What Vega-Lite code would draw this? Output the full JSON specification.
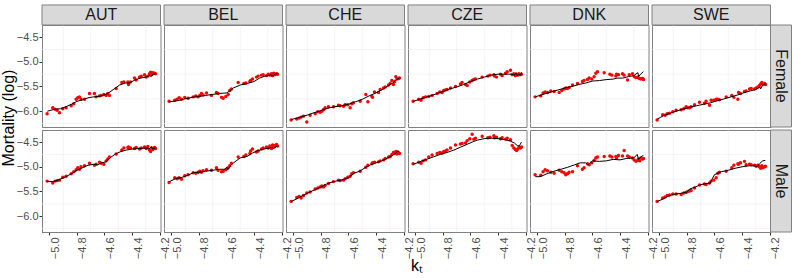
{
"$schema": "https://vega.github.io/schema/vega-lite/v6.json",
"background": "white",
"padding": {"left": 0, "top": 3, "right": 2, "bottom": 2},
"bounds": "flush",
"spacing": {"row": 3, "column": 3},
"datasets": {"d": [
{"c":"AUT","s":"Female","k":"obs","x":-5.017,"y":-6.05},{"c":"AUT","s":"Female","k":"obs","x":-4.976,"y":-5.93},{"c":"AUT","s":"Female","k":"obs","x":-4.959,"y":-5.96},{"c":"AUT","s":"Female","k":"obs","x":-4.944,"y":-5.98},{"c":"AUT","s":"Female","k":"obs","x":-4.927,"y":-6.03},{"c":"AUT","s":"Female","k":"obs","x":-4.903,"y":-5.95},{"c":"AUT","s":"Female","k":"obs","x":-4.879,"y":-5.93},{"c":"AUT","s":"Female","k":"obs","x":-4.842,"y":-5.89},{"c":"AUT","s":"Female","k":"obs","x":-4.823,"y":-5.85},{"c":"AUT","s":"Female","k":"obs","x":-4.806,"y":-5.76},{"c":"AUT","s":"Female","k":"obs","x":-4.794,"y":-5.73},{"c":"AUT","s":"Female","k":"obs","x":-4.782,"y":-5.71},{"c":"AUT","s":"Female","k":"obs","x":-4.770,"y":-5.76},{"c":"AUT","s":"Female","k":"obs","x":-4.745,"y":-5.76},{"c":"AUT","s":"Female","k":"obs","x":-4.709,"y":-5.64},{"c":"AUT","s":"Female","k":"obs","x":-4.673,"y":-5.64},{"c":"AUT","s":"Female","k":"obs","x":-4.661,"y":-5.71},{"c":"AUT","s":"Female","k":"obs","x":-4.636,"y":-5.69},{"c":"AUT","s":"Female","k":"obs","x":-4.624,"y":-5.68},{"c":"AUT","s":"Female","k":"obs","x":-4.605,"y":-5.66},{"c":"AUT","s":"Female","k":"obs","x":-4.588,"y":-5.68},{"c":"AUT","s":"Female","k":"obs","x":-4.576,"y":-5.64},{"c":"AUT","s":"Female","k":"obs","x":-4.564,"y":-5.68},{"c":"AUT","s":"Female","k":"obs","x":-4.515,"y":-5.54},{"c":"AUT","s":"Female","k":"obs","x":-4.474,"y":-5.42},{"c":"AUT","s":"Female","k":"obs","x":-4.459,"y":-5.41},{"c":"AUT","s":"Female","k":"obs","x":-4.430,"y":-5.41},{"c":"AUT","s":"Female","k":"obs","x":-4.425,"y":-5.46},{"c":"AUT","s":"Female","k":"obs","x":-4.411,"y":-5.41},{"c":"AUT","s":"Female","k":"obs","x":-4.382,"y":-5.33},{"c":"AUT","s":"Female","k":"obs","x":-4.370,"y":-5.37},{"c":"AUT","s":"Female","k":"obs","x":-4.345,"y":-5.31},{"c":"AUT","s":"Female","k":"obs","x":-4.333,"y":-5.29},{"c":"AUT","s":"Female","k":"obs","x":-4.309,"y":-5.26},{"c":"AUT","s":"Female","k":"obs","x":-4.297,"y":-5.31},{"c":"AUT","s":"Female","k":"obs","x":-4.285,"y":-5.29},{"c":"AUT","s":"Female","k":"obs","x":-4.273,"y":-5.24},{"c":"AUT","s":"Female","k":"obs","x":-4.265,"y":-5.21},{"c":"AUT","s":"Female","k":"obs","x":-4.256,"y":-5.26},{"c":"AUT","s":"Female","k":"obs","x":-4.248,"y":-5.22},{"c":"AUT","s":"Female","k":"obs","x":-4.236,"y":-5.23},{"c":"AUT","s":"Female","k":"obs","x":-4.229,"y":-5.24},
{"c":"AUT","s":"Male","k":"obs","x":-5.017,"y":-5.29},{"c":"AUT","s":"Male","k":"obs","x":-4.976,"y":-5.33},{"c":"AUT","s":"Male","k":"obs","x":-4.959,"y":-5.29},{"c":"AUT","s":"Male","k":"obs","x":-4.944,"y":-5.28},{"c":"AUT","s":"Male","k":"obs","x":-4.927,"y":-5.27},{"c":"AUT","s":"Male","k":"obs","x":-4.903,"y":-5.21},{"c":"AUT","s":"Male","k":"obs","x":-4.879,"y":-5.19},{"c":"AUT","s":"Male","k":"obs","x":-4.842,"y":-5.14},{"c":"AUT","s":"Male","k":"obs","x":-4.823,"y":-5.10},{"c":"AUT","s":"Male","k":"obs","x":-4.806,"y":-5.06},{"c":"AUT","s":"Male","k":"obs","x":-4.794,"y":-5.02},{"c":"AUT","s":"Male","k":"obs","x":-4.782,"y":-5.05},{"c":"AUT","s":"Male","k":"obs","x":-4.770,"y":-5.00},{"c":"AUT","s":"Male","k":"obs","x":-4.745,"y":-4.98},{"c":"AUT","s":"Male","k":"obs","x":-4.709,"y":-4.93},{"c":"AUT","s":"Male","k":"obs","x":-4.673,"y":-4.97},{"c":"AUT","s":"Male","k":"obs","x":-4.661,"y":-4.95},{"c":"AUT","s":"Male","k":"obs","x":-4.636,"y":-4.91},{"c":"AUT","s":"Male","k":"obs","x":-4.624,"y":-4.93},{"c":"AUT","s":"Male","k":"obs","x":-4.605,"y":-4.95},{"c":"AUT","s":"Male","k":"obs","x":-4.588,"y":-4.88},{"c":"AUT","s":"Male","k":"obs","x":-4.576,"y":-4.84},{"c":"AUT","s":"Male","k":"obs","x":-4.564,"y":-4.80},{"c":"AUT","s":"Male","k":"obs","x":-4.515,"y":-4.74},{"c":"AUT","s":"Male","k":"obs","x":-4.474,"y":-4.66},{"c":"AUT","s":"Male","k":"obs","x":-4.459,"y":-4.62},{"c":"AUT","s":"Male","k":"obs","x":-4.430,"y":-4.61},{"c":"AUT","s":"Male","k":"obs","x":-4.425,"y":-4.60},{"c":"AUT","s":"Male","k":"obs","x":-4.411,"y":-4.62},{"c":"AUT","s":"Male","k":"obs","x":-4.382,"y":-4.63},{"c":"AUT","s":"Male","k":"obs","x":-4.370,"y":-4.61},{"c":"AUT","s":"Male","k":"obs","x":-4.345,"y":-4.64},{"c":"AUT","s":"Male","k":"obs","x":-4.333,"y":-4.62},{"c":"AUT","s":"Male","k":"obs","x":-4.309,"y":-4.60},{"c":"AUT","s":"Male","k":"obs","x":-4.297,"y":-4.63},{"c":"AUT","s":"Male","k":"obs","x":-4.285,"y":-4.59},{"c":"AUT","s":"Male","k":"obs","x":-4.273,"y":-4.66},{"c":"AUT","s":"Male","k":"obs","x":-4.265,"y":-4.69},{"c":"AUT","s":"Male","k":"obs","x":-4.256,"y":-4.62},{"c":"AUT","s":"Male","k":"obs","x":-4.248,"y":-4.65},{"c":"AUT","s":"Male","k":"obs","x":-4.236,"y":-4.61},{"c":"AUT","s":"Male","k":"obs","x":-4.229,"y":-4.63},
{"c":"BEL","s":"Female","k":"obs","x":-5.017,"y":-5.80},{"c":"BEL","s":"Female","k":"obs","x":-4.976,"y":-5.78},{"c":"BEL","s":"Female","k":"obs","x":-4.959,"y":-5.76},{"c":"BEL","s":"Female","k":"obs","x":-4.944,"y":-5.73},{"c":"BEL","s":"Female","k":"obs","x":-4.927,"y":-5.76},{"c":"BEL","s":"Female","k":"obs","x":-4.903,"y":-5.72},{"c":"BEL","s":"Female","k":"obs","x":-4.879,"y":-5.74},{"c":"BEL","s":"Female","k":"obs","x":-4.842,"y":-5.71},{"c":"BEL","s":"Female","k":"obs","x":-4.823,"y":-5.69},{"c":"BEL","s":"Female","k":"obs","x":-4.806,"y":-5.71},{"c":"BEL","s":"Female","k":"obs","x":-4.794,"y":-5.68},{"c":"BEL","s":"Female","k":"obs","x":-4.782,"y":-5.64},{"c":"BEL","s":"Female","k":"obs","x":-4.770,"y":-5.67},{"c":"BEL","s":"Female","k":"obs","x":-4.745,"y":-5.63},{"c":"BEL","s":"Female","k":"obs","x":-4.709,"y":-5.68},{"c":"BEL","s":"Female","k":"obs","x":-4.673,"y":-5.62},{"c":"BEL","s":"Female","k":"obs","x":-4.661,"y":-5.64},{"c":"BEL","s":"Female","k":"obs","x":-4.636,"y":-5.72},{"c":"BEL","s":"Female","k":"obs","x":-4.624,"y":-5.74},{"c":"BEL","s":"Female","k":"obs","x":-4.605,"y":-5.70},{"c":"BEL","s":"Female","k":"obs","x":-4.588,"y":-5.66},{"c":"BEL","s":"Female","k":"obs","x":-4.576,"y":-5.58},{"c":"BEL","s":"Female","k":"obs","x":-4.564,"y":-5.55},{"c":"BEL","s":"Female","k":"obs","x":-4.515,"y":-5.42},{"c":"BEL","s":"Female","k":"obs","x":-4.474,"y":-5.44},{"c":"BEL","s":"Female","k":"obs","x":-4.459,"y":-5.43},{"c":"BEL","s":"Female","k":"obs","x":-4.430,"y":-5.40},{"c":"BEL","s":"Female","k":"obs","x":-4.425,"y":-5.38},{"c":"BEL","s":"Female","k":"obs","x":-4.411,"y":-5.35},{"c":"BEL","s":"Female","k":"obs","x":-4.382,"y":-5.31},{"c":"BEL","s":"Female","k":"obs","x":-4.370,"y":-5.29},{"c":"BEL","s":"Female","k":"obs","x":-4.345,"y":-5.27},{"c":"BEL","s":"Female","k":"obs","x":-4.333,"y":-5.26},{"c":"BEL","s":"Female","k":"obs","x":-4.309,"y":-5.28},{"c":"BEL","s":"Female","k":"obs","x":-4.297,"y":-5.25},{"c":"BEL","s":"Female","k":"obs","x":-4.285,"y":-5.27},{"c":"BEL","s":"Female","k":"obs","x":-4.273,"y":-5.24},{"c":"BEL","s":"Female","k":"obs","x":-4.265,"y":-5.28},{"c":"BEL","s":"Female","k":"obs","x":-4.256,"y":-5.23},{"c":"BEL","s":"Female","k":"obs","x":-4.248,"y":-5.26},{"c":"BEL","s":"Female","k":"obs","x":-4.236,"y":-5.24},{"c":"BEL","s":"Female","k":"obs","x":-4.229,"y":-5.25},
{"c":"BEL","s":"Male","k":"obs","x":-5.017,"y":-5.32},{"c":"BEL","s":"Male","k":"obs","x":-4.976,"y":-5.22},{"c":"BEL","s":"Male","k":"obs","x":-4.959,"y":-5.24},{"c":"BEL","s":"Male","k":"obs","x":-4.944,"y":-5.22},{"c":"BEL","s":"Male","k":"obs","x":-4.927,"y":-5.25},{"c":"BEL","s":"Male","k":"obs","x":-4.903,"y":-5.18},{"c":"BEL","s":"Male","k":"obs","x":-4.879,"y":-5.16},{"c":"BEL","s":"Male","k":"obs","x":-4.842,"y":-5.12},{"c":"BEL","s":"Male","k":"obs","x":-4.823,"y":-5.13},{"c":"BEL","s":"Male","k":"obs","x":-4.806,"y":-5.11},{"c":"BEL","s":"Male","k":"obs","x":-4.794,"y":-5.09},{"c":"BEL","s":"Male","k":"obs","x":-4.782,"y":-5.11},{"c":"BEL","s":"Male","k":"obs","x":-4.770,"y":-5.08},{"c":"BEL","s":"Male","k":"obs","x":-4.745,"y":-5.06},{"c":"BEL","s":"Male","k":"obs","x":-4.709,"y":-5.07},{"c":"BEL","s":"Male","k":"obs","x":-4.673,"y":-5.02},{"c":"BEL","s":"Male","k":"obs","x":-4.661,"y":-5.07},{"c":"BEL","s":"Male","k":"obs","x":-4.636,"y":-5.10},{"c":"BEL","s":"Male","k":"obs","x":-4.624,"y":-5.09},{"c":"BEL","s":"Male","k":"obs","x":-4.605,"y":-5.06},{"c":"BEL","s":"Male","k":"obs","x":-4.588,"y":-5.02},{"c":"BEL","s":"Male","k":"obs","x":-4.576,"y":-4.98},{"c":"BEL","s":"Male","k":"obs","x":-4.564,"y":-4.93},{"c":"BEL","s":"Male","k":"obs","x":-4.515,"y":-4.80},{"c":"BEL","s":"Male","k":"obs","x":-4.474,"y":-4.79},{"c":"BEL","s":"Male","k":"obs","x":-4.459,"y":-4.76},{"c":"BEL","s":"Male","k":"obs","x":-4.430,"y":-4.73},{"c":"BEL","s":"Male","k":"obs","x":-4.425,"y":-4.68},{"c":"BEL","s":"Male","k":"obs","x":-4.411,"y":-4.64},{"c":"BEL","s":"Male","k":"obs","x":-4.382,"y":-4.70},{"c":"BEL","s":"Male","k":"obs","x":-4.370,"y":-4.68},{"c":"BEL","s":"Male","k":"obs","x":-4.345,"y":-4.64},{"c":"BEL","s":"Male","k":"obs","x":-4.333,"y":-4.62},{"c":"BEL","s":"Male","k":"obs","x":-4.309,"y":-4.60},{"c":"BEL","s":"Male","k":"obs","x":-4.297,"y":-4.62},{"c":"BEL","s":"Male","k":"obs","x":-4.285,"y":-4.58},{"c":"BEL","s":"Male","k":"obs","x":-4.273,"y":-4.63},{"c":"BEL","s":"Male","k":"obs","x":-4.265,"y":-4.56},{"c":"BEL","s":"Male","k":"obs","x":-4.256,"y":-4.60},{"c":"BEL","s":"Male","k":"obs","x":-4.248,"y":-4.57},{"c":"BEL","s":"Male","k":"obs","x":-4.236,"y":-4.55},{"c":"BEL","s":"Male","k":"obs","x":-4.229,"y":-4.58},
{"c":"CHE","s":"Female","k":"obs","x":-5.017,"y":-6.18},{"c":"CHE","s":"Female","k":"obs","x":-4.976,"y":-6.16},{"c":"CHE","s":"Female","k":"obs","x":-4.959,"y":-6.14},{"c":"CHE","s":"Female","k":"obs","x":-4.944,"y":-6.12},{"c":"CHE","s":"Female","k":"obs","x":-4.927,"y":-6.10},{"c":"CHE","s":"Female","k":"obs","x":-4.903,"y":-6.22},{"c":"CHE","s":"Female","k":"obs","x":-4.879,"y":-6.08},{"c":"CHE","s":"Female","k":"obs","x":-4.842,"y":-6.05},{"c":"CHE","s":"Female","k":"obs","x":-4.823,"y":-6.01},{"c":"CHE","s":"Female","k":"obs","x":-4.806,"y":-6.02},{"c":"CHE","s":"Female","k":"obs","x":-4.794,"y":-6.00},{"c":"CHE","s":"Female","k":"obs","x":-4.782,"y":-5.97},{"c":"CHE","s":"Female","k":"obs","x":-4.770,"y":-5.93},{"c":"CHE","s":"Female","k":"obs","x":-4.745,"y":-5.91},{"c":"CHE","s":"Female","k":"obs","x":-4.709,"y":-5.91},{"c":"CHE","s":"Female","k":"obs","x":-4.673,"y":-5.88},{"c":"CHE","s":"Female","k":"obs","x":-4.661,"y":-5.89},{"c":"CHE","s":"Female","k":"obs","x":-4.636,"y":-5.90},{"c":"CHE","s":"Female","k":"obs","x":-4.624,"y":-5.87},{"c":"CHE","s":"Female","k":"obs","x":-4.605,"y":-5.87},{"c":"CHE","s":"Female","k":"obs","x":-4.588,"y":-5.93},{"c":"CHE","s":"Female","k":"obs","x":-4.576,"y":-5.85},{"c":"CHE","s":"Female","k":"obs","x":-4.564,"y":-5.83},{"c":"CHE","s":"Female","k":"obs","x":-4.515,"y":-5.80},{"c":"CHE","s":"Female","k":"obs","x":-4.474,"y":-5.66},{"c":"CHE","s":"Female","k":"obs","x":-4.459,"y":-5.81},{"c":"CHE","s":"Female","k":"obs","x":-4.430,"y":-5.70},{"c":"CHE","s":"Female","k":"obs","x":-4.425,"y":-5.72},{"c":"CHE","s":"Female","k":"obs","x":-4.411,"y":-5.61},{"c":"CHE","s":"Female","k":"obs","x":-4.382,"y":-5.62},{"c":"CHE","s":"Female","k":"obs","x":-4.370,"y":-5.56},{"c":"CHE","s":"Female","k":"obs","x":-4.345,"y":-5.53},{"c":"CHE","s":"Female","k":"obs","x":-4.333,"y":-5.51},{"c":"CHE","s":"Female","k":"obs","x":-4.309,"y":-5.47},{"c":"CHE","s":"Female","k":"obs","x":-4.297,"y":-5.44},{"c":"CHE","s":"Female","k":"obs","x":-4.285,"y":-5.38},{"c":"CHE","s":"Female","k":"obs","x":-4.273,"y":-5.46},{"c":"CHE","s":"Female","k":"obs","x":-4.265,"y":-5.40},{"c":"CHE","s":"Female","k":"obs","x":-4.256,"y":-5.30},{"c":"CHE","s":"Female","k":"obs","x":-4.248,"y":-5.35},{"c":"CHE","s":"Female","k":"obs","x":-4.236,"y":-5.34},{"c":"CHE","s":"Female","k":"obs","x":-4.229,"y":-5.33},
{"c":"CHE","s":"Male","k":"obs","x":-5.017,"y":-5.70},{"c":"CHE","s":"Male","k":"obs","x":-4.976,"y":-5.62},{"c":"CHE","s":"Male","k":"obs","x":-4.959,"y":-5.60},{"c":"CHE","s":"Male","k":"obs","x":-4.944,"y":-5.63},{"c":"CHE","s":"Male","k":"obs","x":-4.927,"y":-5.58},{"c":"CHE","s":"Male","k":"obs","x":-4.903,"y":-5.53},{"c":"CHE","s":"Male","k":"obs","x":-4.879,"y":-5.51},{"c":"CHE","s":"Male","k":"obs","x":-4.842,"y":-5.45},{"c":"CHE","s":"Male","k":"obs","x":-4.823,"y":-5.43},{"c":"CHE","s":"Male","k":"obs","x":-4.806,"y":-5.41},{"c":"CHE","s":"Male","k":"obs","x":-4.794,"y":-5.39},{"c":"CHE","s":"Male","k":"obs","x":-4.782,"y":-5.41},{"c":"CHE","s":"Male","k":"obs","x":-4.770,"y":-5.38},{"c":"CHE","s":"Male","k":"obs","x":-4.745,"y":-5.34},{"c":"CHE","s":"Male","k":"obs","x":-4.709,"y":-5.30},{"c":"CHE","s":"Male","k":"obs","x":-4.673,"y":-5.27},{"c":"CHE","s":"Male","k":"obs","x":-4.661,"y":-5.28},{"c":"CHE","s":"Male","k":"obs","x":-4.636,"y":-5.27},{"c":"CHE","s":"Male","k":"obs","x":-4.624,"y":-5.24},{"c":"CHE","s":"Male","k":"obs","x":-4.605,"y":-5.21},{"c":"CHE","s":"Male","k":"obs","x":-4.588,"y":-5.19},{"c":"CHE","s":"Male","k":"obs","x":-4.576,"y":-5.14},{"c":"CHE","s":"Male","k":"obs","x":-4.564,"y":-5.12},{"c":"CHE","s":"Male","k":"obs","x":-4.515,"y":-5.09},{"c":"CHE","s":"Male","k":"obs","x":-4.474,"y":-5.01},{"c":"CHE","s":"Male","k":"obs","x":-4.459,"y":-4.97},{"c":"CHE","s":"Male","k":"obs","x":-4.430,"y":-4.94},{"c":"CHE","s":"Male","k":"obs","x":-4.425,"y":-4.92},{"c":"CHE","s":"Male","k":"obs","x":-4.411,"y":-4.91},{"c":"CHE","s":"Male","k":"obs","x":-4.382,"y":-4.90},{"c":"CHE","s":"Male","k":"obs","x":-4.370,"y":-4.88},{"c":"CHE","s":"Male","k":"obs","x":-4.345,"y":-4.86},{"c":"CHE","s":"Male","k":"obs","x":-4.333,"y":-4.83},{"c":"CHE","s":"Male","k":"obs","x":-4.309,"y":-4.80},{"c":"CHE","s":"Male","k":"obs","x":-4.297,"y":-4.79},{"c":"CHE","s":"Male","k":"obs","x":-4.285,"y":-4.75},{"c":"CHE","s":"Male","k":"obs","x":-4.273,"y":-4.71},{"c":"CHE","s":"Male","k":"obs","x":-4.265,"y":-4.73},{"c":"CHE","s":"Male","k":"obs","x":-4.256,"y":-4.69},{"c":"CHE","s":"Male","k":"obs","x":-4.248,"y":-4.74},{"c":"CHE","s":"Male","k":"obs","x":-4.236,"y":-4.72},{"c":"CHE","s":"Male","k":"obs","x":-4.229,"y":-4.73},
{"c":"CZE","s":"Female","k":"obs","x":-5.017,"y":-5.80},{"c":"CZE","s":"Female","k":"obs","x":-4.976,"y":-5.76},{"c":"CZE","s":"Female","k":"obs","x":-4.959,"y":-5.78},{"c":"CZE","s":"Female","k":"obs","x":-4.944,"y":-5.73},{"c":"CZE","s":"Female","k":"obs","x":-4.927,"y":-5.71},{"c":"CZE","s":"Female","k":"obs","x":-4.903,"y":-5.70},{"c":"CZE","s":"Female","k":"obs","x":-4.879,"y":-5.68},{"c":"CZE","s":"Female","k":"obs","x":-4.842,"y":-5.64},{"c":"CZE","s":"Female","k":"obs","x":-4.823,"y":-5.61},{"c":"CZE","s":"Female","k":"obs","x":-4.806,"y":-5.62},{"c":"CZE","s":"Female","k":"obs","x":-4.794,"y":-5.58},{"c":"CZE","s":"Female","k":"obs","x":-4.782,"y":-5.57},{"c":"CZE","s":"Female","k":"obs","x":-4.770,"y":-5.56},{"c":"CZE","s":"Female","k":"obs","x":-4.745,"y":-5.53},{"c":"CZE","s":"Female","k":"obs","x":-4.709,"y":-5.50},{"c":"CZE","s":"Female","k":"obs","x":-4.673,"y":-5.45},{"c":"CZE","s":"Female","k":"obs","x":-4.661,"y":-5.42},{"c":"CZE","s":"Female","k":"obs","x":-4.636,"y":-5.46},{"c":"CZE","s":"Female","k":"obs","x":-4.624,"y":-5.48},{"c":"CZE","s":"Female","k":"obs","x":-4.605,"y":-5.41},{"c":"CZE","s":"Female","k":"obs","x":-4.588,"y":-5.38},{"c":"CZE","s":"Female","k":"obs","x":-4.576,"y":-5.36},{"c":"CZE","s":"Female","k":"obs","x":-4.564,"y":-5.35},{"c":"CZE","s":"Female","k":"obs","x":-4.515,"y":-5.31},{"c":"CZE","s":"Female","k":"obs","x":-4.474,"y":-5.29},{"c":"CZE","s":"Female","k":"obs","x":-4.459,"y":-5.27},{"c":"CZE","s":"Female","k":"obs","x":-4.430,"y":-5.26},{"c":"CZE","s":"Female","k":"obs","x":-4.425,"y":-5.29},{"c":"CZE","s":"Female","k":"obs","x":-4.411,"y":-5.31},{"c":"CZE","s":"Female","k":"obs","x":-4.382,"y":-5.25},{"c":"CZE","s":"Female","k":"obs","x":-4.370,"y":-5.28},{"c":"CZE","s":"Female","k":"obs","x":-4.345,"y":-5.23},{"c":"CZE","s":"Female","k":"obs","x":-4.333,"y":-5.20},{"c":"CZE","s":"Female","k":"obs","x":-4.309,"y":-5.17},{"c":"CZE","s":"Female","k":"obs","x":-4.297,"y":-5.26},{"c":"CZE","s":"Female","k":"obs","x":-4.285,"y":-5.24},{"c":"CZE","s":"Female","k":"obs","x":-4.273,"y":-5.28},{"c":"CZE","s":"Female","k":"obs","x":-4.265,"y":-5.25},{"c":"CZE","s":"Female","k":"obs","x":-4.256,"y":-5.27},{"c":"CZE","s":"Female","k":"obs","x":-4.248,"y":-5.24},{"c":"CZE","s":"Female","k":"obs","x":-4.236,"y":-5.26},{"c":"CZE","s":"Female","k":"obs","x":-4.229,"y":-5.25},
{"c":"CZE","s":"Male","k":"obs","x":-5.017,"y":-4.94},{"c":"CZE","s":"Male","k":"obs","x":-4.976,"y":-4.91},{"c":"CZE","s":"Male","k":"obs","x":-4.959,"y":-4.93},{"c":"CZE","s":"Male","k":"obs","x":-4.944,"y":-4.88},{"c":"CZE","s":"Male","k":"obs","x":-4.927,"y":-4.86},{"c":"CZE","s":"Male","k":"obs","x":-4.903,"y":-4.80},{"c":"CZE","s":"Male","k":"obs","x":-4.879,"y":-4.76},{"c":"CZE","s":"Male","k":"obs","x":-4.842,"y":-4.73},{"c":"CZE","s":"Male","k":"obs","x":-4.823,"y":-4.71},{"c":"CZE","s":"Male","k":"obs","x":-4.806,"y":-4.72},{"c":"CZE","s":"Male","k":"obs","x":-4.794,"y":-4.69},{"c":"CZE","s":"Male","k":"obs","x":-4.782,"y":-4.68},{"c":"CZE","s":"Male","k":"obs","x":-4.770,"y":-4.66},{"c":"CZE","s":"Male","k":"obs","x":-4.745,"y":-4.62},{"c":"CZE","s":"Male","k":"obs","x":-4.709,"y":-4.56},{"c":"CZE","s":"Male","k":"obs","x":-4.673,"y":-4.54},{"c":"CZE","s":"Male","k":"obs","x":-4.661,"y":-4.53},{"c":"CZE","s":"Male","k":"obs","x":-4.636,"y":-4.52},{"c":"CZE","s":"Male","k":"obs","x":-4.624,"y":-4.47},{"c":"CZE","s":"Male","k":"obs","x":-4.605,"y":-4.43},{"c":"CZE","s":"Male","k":"obs","x":-4.588,"y":-4.34},{"c":"CZE","s":"Male","k":"obs","x":-4.576,"y":-4.44},{"c":"CZE","s":"Male","k":"obs","x":-4.564,"y":-4.42},{"c":"CZE","s":"Male","k":"obs","x":-4.515,"y":-4.38},{"c":"CZE","s":"Male","k":"obs","x":-4.474,"y":-4.41},{"c":"CZE","s":"Male","k":"obs","x":-4.459,"y":-4.40},{"c":"CZE","s":"Male","k":"obs","x":-4.430,"y":-4.37},{"c":"CZE","s":"Male","k":"obs","x":-4.425,"y":-4.41},{"c":"CZE","s":"Male","k":"obs","x":-4.411,"y":-4.40},{"c":"CZE","s":"Male","k":"obs","x":-4.382,"y":-4.43},{"c":"CZE","s":"Male","k":"obs","x":-4.370,"y":-4.41},{"c":"CZE","s":"Male","k":"obs","x":-4.345,"y":-4.44},{"c":"CZE","s":"Male","k":"obs","x":-4.333,"y":-4.42},{"c":"CZE","s":"Male","k":"obs","x":-4.309,"y":-4.45},{"c":"CZE","s":"Male","k":"obs","x":-4.297,"y":-4.57},{"c":"CZE","s":"Male","k":"obs","x":-4.285,"y":-4.62},{"c":"CZE","s":"Male","k":"obs","x":-4.273,"y":-4.65},{"c":"CZE","s":"Male","k":"obs","x":-4.265,"y":-4.67},{"c":"CZE","s":"Male","k":"obs","x":-4.256,"y":-4.64},{"c":"CZE","s":"Male","k":"obs","x":-4.248,"y":-4.61},{"c":"CZE","s":"Male","k":"obs","x":-4.236,"y":-4.62},{"c":"CZE","s":"Male","k":"obs","x":-4.229,"y":-4.60},
{"c":"DNK","s":"Female","k":"obs","x":-5.017,"y":-5.71},{"c":"DNK","s":"Female","k":"obs","x":-4.976,"y":-5.69},{"c":"DNK","s":"Female","k":"obs","x":-4.959,"y":-5.63},{"c":"DNK","s":"Female","k":"obs","x":-4.944,"y":-5.61},{"c":"DNK","s":"Female","k":"obs","x":-4.927,"y":-5.62},{"c":"DNK","s":"Female","k":"obs","x":-4.903,"y":-5.59},{"c":"DNK","s":"Female","k":"obs","x":-4.879,"y":-5.60},{"c":"DNK","s":"Female","k":"obs","x":-4.842,"y":-5.62},{"c":"DNK","s":"Female","k":"obs","x":-4.823,"y":-5.58},{"c":"DNK","s":"Female","k":"obs","x":-4.806,"y":-5.55},{"c":"DNK","s":"Female","k":"obs","x":-4.794,"y":-5.53},{"c":"DNK","s":"Female","k":"obs","x":-4.782,"y":-5.54},{"c":"DNK","s":"Female","k":"obs","x":-4.770,"y":-5.52},{"c":"DNK","s":"Female","k":"obs","x":-4.745,"y":-5.47},{"c":"DNK","s":"Female","k":"obs","x":-4.709,"y":-5.44},{"c":"DNK","s":"Female","k":"obs","x":-4.673,"y":-5.40},{"c":"DNK","s":"Female","k":"obs","x":-4.661,"y":-5.38},{"c":"DNK","s":"Female","k":"obs","x":-4.636,"y":-5.36},{"c":"DNK","s":"Female","k":"obs","x":-4.624,"y":-5.33},{"c":"DNK","s":"Female","k":"obs","x":-4.605,"y":-5.35},{"c":"DNK","s":"Female","k":"obs","x":-4.588,"y":-5.30},{"c":"DNK","s":"Female","k":"obs","x":-4.576,"y":-5.23},{"c":"DNK","s":"Female","k":"obs","x":-4.564,"y":-5.20},{"c":"DNK","s":"Female","k":"obs","x":-4.515,"y":-5.22},{"c":"DNK","s":"Female","k":"obs","x":-4.474,"y":-5.25},{"c":"DNK","s":"Female","k":"obs","x":-4.459,"y":-5.27},{"c":"DNK","s":"Female","k":"obs","x":-4.430,"y":-5.29},{"c":"DNK","s":"Female","k":"obs","x":-4.425,"y":-5.25},{"c":"DNK","s":"Female","k":"obs","x":-4.411,"y":-5.26},{"c":"DNK","s":"Female","k":"obs","x":-4.382,"y":-5.24},{"c":"DNK","s":"Female","k":"obs","x":-4.370,"y":-5.27},{"c":"DNK","s":"Female","k":"obs","x":-4.345,"y":-5.37},{"c":"DNK","s":"Female","k":"obs","x":-4.333,"y":-5.26},{"c":"DNK","s":"Female","k":"obs","x":-4.309,"y":-5.24},{"c":"DNK","s":"Female","k":"obs","x":-4.297,"y":-5.30},{"c":"DNK","s":"Female","k":"obs","x":-4.285,"y":-5.32},{"c":"DNK","s":"Female","k":"obs","x":-4.273,"y":-5.31},{"c":"DNK","s":"Female","k":"obs","x":-4.265,"y":-5.33},{"c":"DNK","s":"Female","k":"obs","x":-4.256,"y":-5.34},{"c":"DNK","s":"Female","k":"obs","x":-4.248,"y":-5.35},{"c":"DNK","s":"Female","k":"obs","x":-4.236,"y":-5.34},{"c":"DNK","s":"Female","k":"obs","x":-4.229,"y":-5.36},
{"c":"DNK","s":"Male","k":"obs","x":-5.017,"y":-5.16},{"c":"DNK","s":"Male","k":"obs","x":-4.976,"y":-5.17},{"c":"DNK","s":"Male","k":"obs","x":-4.959,"y":-5.10},{"c":"DNK","s":"Male","k":"obs","x":-4.944,"y":-5.06},{"c":"DNK","s":"Male","k":"obs","x":-4.927,"y":-5.08},{"c":"DNK","s":"Male","k":"obs","x":-4.903,"y":-5.11},{"c":"DNK","s":"Male","k":"obs","x":-4.879,"y":-5.13},{"c":"DNK","s":"Male","k":"obs","x":-4.842,"y":-5.07},{"c":"DNK","s":"Male","k":"obs","x":-4.823,"y":-5.10},{"c":"DNK","s":"Male","k":"obs","x":-4.806,"y":-5.12},{"c":"DNK","s":"Male","k":"obs","x":-4.794,"y":-5.16},{"c":"DNK","s":"Male","k":"obs","x":-4.782,"y":-5.14},{"c":"DNK","s":"Male","k":"obs","x":-4.770,"y":-5.11},{"c":"DNK","s":"Male","k":"obs","x":-4.745,"y":-5.10},{"c":"DNK","s":"Male","k":"obs","x":-4.709,"y":-4.98},{"c":"DNK","s":"Male","k":"obs","x":-4.673,"y":-5.05},{"c":"DNK","s":"Male","k":"obs","x":-4.661,"y":-5.02},{"c":"DNK","s":"Male","k":"obs","x":-4.636,"y":-4.94},{"c":"DNK","s":"Male","k":"obs","x":-4.624,"y":-4.96},{"c":"DNK","s":"Male","k":"obs","x":-4.605,"y":-4.92},{"c":"DNK","s":"Male","k":"obs","x":-4.588,"y":-4.87},{"c":"DNK","s":"Male","k":"obs","x":-4.576,"y":-4.82},{"c":"DNK","s":"Male","k":"obs","x":-4.564,"y":-4.80},{"c":"DNK","s":"Male","k":"obs","x":-4.515,"y":-4.79},{"c":"DNK","s":"Male","k":"obs","x":-4.474,"y":-4.78},{"c":"DNK","s":"Male","k":"obs","x":-4.459,"y":-4.80},{"c":"DNK","s":"Male","k":"obs","x":-4.430,"y":-4.79},{"c":"DNK","s":"Male","k":"obs","x":-4.425,"y":-4.82},{"c":"DNK","s":"Male","k":"obs","x":-4.411,"y":-4.77},{"c":"DNK","s":"Male","k":"obs","x":-4.382,"y":-4.78},{"c":"DNK","s":"Male","k":"obs","x":-4.370,"y":-4.67},{"c":"DNK","s":"Male","k":"obs","x":-4.345,"y":-4.78},{"c":"DNK","s":"Male","k":"obs","x":-4.333,"y":-4.80},{"c":"DNK","s":"Male","k":"obs","x":-4.309,"y":-4.82},{"c":"DNK","s":"Male","k":"obs","x":-4.297,"y":-4.86},{"c":"DNK","s":"Male","k":"obs","x":-4.285,"y":-4.89},{"c":"DNK","s":"Male","k":"obs","x":-4.273,"y":-4.87},{"c":"DNK","s":"Male","k":"obs","x":-4.265,"y":-4.84},{"c":"DNK","s":"Male","k":"obs","x":-4.256,"y":-4.88},{"c":"DNK","s":"Male","k":"obs","x":-4.248,"y":-4.82},{"c":"DNK","s":"Male","k":"obs","x":-4.236,"y":-4.84},{"c":"DNK","s":"Male","k":"obs","x":-4.229,"y":-4.83},
{"c":"SWE","s":"Female","k":"obs","x":-5.017,"y":-6.18},{"c":"SWE","s":"Female","k":"obs","x":-4.976,"y":-6.07},{"c":"SWE","s":"Female","k":"obs","x":-4.959,"y":-6.08},{"c":"SWE","s":"Female","k":"obs","x":-4.944,"y":-6.05},{"c":"SWE","s":"Female","k":"obs","x":-4.927,"y":-6.04},{"c":"SWE","s":"Female","k":"obs","x":-4.903,"y":-6.01},{"c":"SWE","s":"Female","k":"obs","x":-4.879,"y":-5.98},{"c":"SWE","s":"Female","k":"obs","x":-4.842,"y":-5.97},{"c":"SWE","s":"Female","k":"obs","x":-4.823,"y":-5.95},{"c":"SWE","s":"Female","k":"obs","x":-4.806,"y":-5.91},{"c":"SWE","s":"Female","k":"obs","x":-4.794,"y":-5.93},{"c":"SWE","s":"Female","k":"obs","x":-4.782,"y":-5.93},{"c":"SWE","s":"Female","k":"obs","x":-4.770,"y":-5.91},{"c":"SWE","s":"Female","k":"obs","x":-4.745,"y":-5.87},{"c":"SWE","s":"Female","k":"obs","x":-4.709,"y":-5.82},{"c":"SWE","s":"Female","k":"obs","x":-4.673,"y":-5.84},{"c":"SWE","s":"Female","k":"obs","x":-4.661,"y":-5.80},{"c":"SWE","s":"Female","k":"obs","x":-4.636,"y":-5.88},{"c":"SWE","s":"Female","k":"obs","x":-4.624,"y":-5.78},{"c":"SWE","s":"Female","k":"obs","x":-4.605,"y":-5.78},{"c":"SWE","s":"Female","k":"obs","x":-4.588,"y":-5.76},{"c":"SWE","s":"Female","k":"obs","x":-4.576,"y":-5.76},{"c":"SWE","s":"Female","k":"obs","x":-4.564,"y":-5.77},{"c":"SWE","s":"Female","k":"obs","x":-4.515,"y":-5.71},{"c":"SWE","s":"Female","k":"obs","x":-4.474,"y":-5.68},{"c":"SWE","s":"Female","k":"obs","x":-4.459,"y":-5.72},{"c":"SWE","s":"Female","k":"obs","x":-4.430,"y":-5.76},{"c":"SWE","s":"Female","k":"obs","x":-4.425,"y":-5.62},{"c":"SWE","s":"Female","k":"obs","x":-4.411,"y":-5.64},{"c":"SWE","s":"Female","k":"obs","x":-4.382,"y":-5.60},{"c":"SWE","s":"Female","k":"obs","x":-4.370,"y":-5.59},{"c":"SWE","s":"Female","k":"obs","x":-4.345,"y":-5.55},{"c":"SWE","s":"Female","k":"obs","x":-4.333,"y":-5.54},{"c":"SWE","s":"Female","k":"obs","x":-4.309,"y":-5.55},{"c":"SWE","s":"Female","k":"obs","x":-4.297,"y":-5.53},{"c":"SWE","s":"Female","k":"obs","x":-4.285,"y":-5.51},{"c":"SWE","s":"Female","k":"obs","x":-4.273,"y":-5.48},{"c":"SWE","s":"Female","k":"obs","x":-4.265,"y":-5.45},{"c":"SWE","s":"Female","k":"obs","x":-4.256,"y":-5.42},{"c":"SWE","s":"Female","k":"obs","x":-4.248,"y":-5.46},{"c":"SWE","s":"Female","k":"obs","x":-4.236,"y":-5.44},{"c":"SWE","s":"Female","k":"obs","x":-4.229,"y":-5.46},
{"c":"SWE","s":"Male","k":"obs","x":-5.017,"y":-5.70},{"c":"SWE","s":"Male","k":"obs","x":-4.976,"y":-5.63},{"c":"SWE","s":"Male","k":"obs","x":-4.959,"y":-5.61},{"c":"SWE","s":"Male","k":"obs","x":-4.944,"y":-5.58},{"c":"SWE","s":"Male","k":"obs","x":-4.927,"y":-5.57},{"c":"SWE","s":"Male","k":"obs","x":-4.903,"y":-5.55},{"c":"SWE","s":"Male","k":"obs","x":-4.879,"y":-5.55},{"c":"SWE","s":"Male","k":"obs","x":-4.842,"y":-5.56},{"c":"SWE","s":"Male","k":"obs","x":-4.823,"y":-5.53},{"c":"SWE","s":"Male","k":"obs","x":-4.806,"y":-5.52},{"c":"SWE","s":"Male","k":"obs","x":-4.794,"y":-5.50},{"c":"SWE","s":"Male","k":"obs","x":-4.782,"y":-5.49},{"c":"SWE","s":"Male","k":"obs","x":-4.770,"y":-5.48},{"c":"SWE","s":"Male","k":"obs","x":-4.745,"y":-5.43},{"c":"SWE","s":"Male","k":"obs","x":-4.709,"y":-5.37},{"c":"SWE","s":"Male","k":"obs","x":-4.673,"y":-5.35},{"c":"SWE","s":"Male","k":"obs","x":-4.661,"y":-5.36},{"c":"SWE","s":"Male","k":"obs","x":-4.636,"y":-5.33},{"c":"SWE","s":"Male","k":"obs","x":-4.624,"y":-5.29},{"c":"SWE","s":"Male","k":"obs","x":-4.605,"y":-5.27},{"c":"SWE","s":"Male","k":"obs","x":-4.588,"y":-5.22},{"c":"SWE","s":"Male","k":"obs","x":-4.576,"y":-5.13},{"c":"SWE","s":"Male","k":"obs","x":-4.564,"y":-5.11},{"c":"SWE","s":"Male","k":"obs","x":-4.515,"y":-5.09},{"c":"SWE","s":"Male","k":"obs","x":-4.474,"y":-5.02},{"c":"SWE","s":"Male","k":"obs","x":-4.459,"y":-4.97},{"c":"SWE","s":"Male","k":"obs","x":-4.430,"y":-4.94},{"c":"SWE","s":"Male","k":"obs","x":-4.425,"y":-4.95},{"c":"SWE","s":"Male","k":"obs","x":-4.411,"y":-4.92},{"c":"SWE","s":"Male","k":"obs","x":-4.382,"y":-4.89},{"c":"SWE","s":"Male","k":"obs","x":-4.370,"y":-4.96},{"c":"SWE","s":"Male","k":"obs","x":-4.345,"y":-4.95},{"c":"SWE","s":"Male","k":"obs","x":-4.333,"y":-4.96},{"c":"SWE","s":"Male","k":"obs","x":-4.309,"y":-4.97},{"c":"SWE","s":"Male","k":"obs","x":-4.297,"y":-4.99},{"c":"SWE","s":"Male","k":"obs","x":-4.285,"y":-4.97},{"c":"SWE","s":"Male","k":"obs","x":-4.273,"y":-5.00},{"c":"SWE","s":"Male","k":"obs","x":-4.265,"y":-5.03},{"c":"SWE","s":"Male","k":"obs","x":-4.256,"y":-4.98},{"c":"SWE","s":"Male","k":"obs","x":-4.248,"y":-5.02},{"c":"SWE","s":"Male","k":"obs","x":-4.236,"y":-5.00},{"c":"SWE","s":"Male","k":"obs","x":-4.229,"y":-4.99},
{"c":"AUT","s":"Female","k":"fit","x":-5.015,"y":-6.00},{"c":"AUT","s":"Female","k":"fit","x":-4.96,"y":-5.96},{"c":"AUT","s":"Female","k":"fit","x":-4.92,"y":-5.95},{"c":"AUT","s":"Female","k":"fit","x":-4.88,"y":-5.91},{"c":"AUT","s":"Female","k":"fit","x":-4.84,"y":-5.86},{"c":"AUT","s":"Female","k":"fit","x":-4.80,"y":-5.80},{"c":"AUT","s":"Female","k":"fit","x":-4.76,"y":-5.77},{"c":"AUT","s":"Female","k":"fit","x":-4.72,"y":-5.73},{"c":"AUT","s":"Female","k":"fit","x":-4.68,"y":-5.71},{"c":"AUT","s":"Female","k":"fit","x":-4.64,"y":-5.70},{"c":"AUT","s":"Female","k":"fit","x":-4.60,"y":-5.67},{"c":"AUT","s":"Female","k":"fit","x":-4.57,"y":-5.63},{"c":"AUT","s":"Female","k":"fit","x":-4.53,"y":-5.55},{"c":"AUT","s":"Female","k":"fit","x":-4.49,"y":-5.47},{"c":"AUT","s":"Female","k":"fit","x":-4.45,"y":-5.43},{"c":"AUT","s":"Female","k":"fit","x":-4.42,"y":-5.43},{"c":"AUT","s":"Female","k":"fit","x":-4.38,"y":-5.37},{"c":"AUT","s":"Female","k":"fit","x":-4.34,"y":-5.33},{"c":"AUT","s":"Female","k":"fit","x":-4.30,"y":-5.31},{"c":"AUT","s":"Female","k":"fit","x":-4.27,"y":-5.28},{"c":"AUT","s":"Female","k":"fit","x":-4.26,"y":-5.30},{"c":"AUT","s":"Female","k":"fit","x":-4.25,"y":-5.26},{"c":"AUT","s":"Female","k":"fit","x":-4.23,"y":-5.24},
{"c":"AUT","s":"Male","k":"fit","x":-5.015,"y":-5.30},{"c":"AUT","s":"Male","k":"fit","x":-4.97,"y":-5.30},{"c":"AUT","s":"Male","k":"fit","x":-4.93,"y":-5.26},{"c":"AUT","s":"Male","k":"fit","x":-4.88,"y":-5.20},{"c":"AUT","s":"Male","k":"fit","x":-4.84,"y":-5.14},{"c":"AUT","s":"Male","k":"fit","x":-4.80,"y":-5.07},{"c":"AUT","s":"Male","k":"fit","x":-4.76,"y":-5.02},{"c":"AUT","s":"Male","k":"fit","x":-4.72,"y":-4.97},{"c":"AUT","s":"Male","k":"fit","x":-4.68,"y":-4.95},{"c":"AUT","s":"Male","k":"fit","x":-4.65,"y":-4.96},{"c":"AUT","s":"Male","k":"fit","x":-4.62,"y":-4.92},{"c":"AUT","s":"Male","k":"fit","x":-4.59,"y":-4.90},{"c":"AUT","s":"Male","k":"fit","x":-4.56,"y":-4.82},{"c":"AUT","s":"Male","k":"fit","x":-4.52,"y":-4.74},{"c":"AUT","s":"Male","k":"fit","x":-4.48,"y":-4.69},{"c":"AUT","s":"Male","k":"fit","x":-4.44,"y":-4.66},{"c":"AUT","s":"Male","k":"fit","x":-4.40,"y":-4.64},{"c":"AUT","s":"Male","k":"fit","x":-4.35,"y":-4.63},{"c":"AUT","s":"Male","k":"fit","x":-4.30,"y":-4.62},{"c":"AUT","s":"Male","k":"fit","x":-4.27,"y":-4.63},{"c":"AUT","s":"Male","k":"fit","x":-4.26,"y":-4.59},{"c":"AUT","s":"Male","k":"fit","x":-4.25,"y":-4.64},{"c":"AUT","s":"Male","k":"fit","x":-4.23,"y":-4.62},
{"c":"BEL","s":"Female","k":"fit","x":-5.015,"y":-5.81},{"c":"BEL","s":"Female","k":"fit","x":-4.96,"y":-5.79},{"c":"BEL","s":"Female","k":"fit","x":-4.90,"y":-5.75},{"c":"BEL","s":"Female","k":"fit","x":-4.85,"y":-5.72},{"c":"BEL","s":"Female","k":"fit","x":-4.80,"y":-5.70},{"c":"BEL","s":"Female","k":"fit","x":-4.75,"y":-5.68},{"c":"BEL","s":"Female","k":"fit","x":-4.70,"y":-5.66},{"c":"BEL","s":"Female","k":"fit","x":-4.65,"y":-5.64},{"c":"BEL","s":"Female","k":"fit","x":-4.60,"y":-5.63},{"c":"BEL","s":"Female","k":"fit","x":-4.58,"y":-5.60},{"c":"BEL","s":"Female","k":"fit","x":-4.55,"y":-5.53},{"c":"BEL","s":"Female","k":"fit","x":-4.50,"y":-5.47},{"c":"BEL","s":"Female","k":"fit","x":-4.45,"y":-5.44},{"c":"BEL","s":"Female","k":"fit","x":-4.40,"y":-5.40},{"c":"BEL","s":"Female","k":"fit","x":-4.36,"y":-5.33},{"c":"BEL","s":"Female","k":"fit","x":-4.32,"y":-5.29},{"c":"BEL","s":"Female","k":"fit","x":-4.28,"y":-5.27},{"c":"BEL","s":"Female","k":"fit","x":-4.26,"y":-5.28},{"c":"BEL","s":"Female","k":"fit","x":-4.25,"y":-5.25},{"c":"BEL","s":"Female","k":"fit","x":-4.23,"y":-5.24},
{"c":"BEL","s":"Male","k":"fit","x":-5.015,"y":-5.30},{"c":"BEL","s":"Male","k":"fit","x":-4.97,"y":-5.24},{"c":"BEL","s":"Male","k":"fit","x":-4.93,"y":-5.22},{"c":"BEL","s":"Male","k":"fit","x":-4.88,"y":-5.17},{"c":"BEL","s":"Male","k":"fit","x":-4.84,"y":-5.12},{"c":"BEL","s":"Male","k":"fit","x":-4.80,"y":-5.11},{"c":"BEL","s":"Male","k":"fit","x":-4.75,"y":-5.09},{"c":"BEL","s":"Male","k":"fit","x":-4.70,"y":-5.07},{"c":"BEL","s":"Male","k":"fit","x":-4.65,"y":-5.05},{"c":"BEL","s":"Male","k":"fit","x":-4.61,"y":-5.05},{"c":"BEL","s":"Male","k":"fit","x":-4.60,"y":-5.01},{"c":"BEL","s":"Male","k":"fit","x":-4.59,"y":-5.06},{"c":"BEL","s":"Male","k":"fit","x":-4.57,"y":-4.97},{"c":"BEL","s":"Male","k":"fit","x":-4.53,"y":-4.88},{"c":"BEL","s":"Male","k":"fit","x":-4.50,"y":-4.82},{"c":"BEL","s":"Male","k":"fit","x":-4.45,"y":-4.79},{"c":"BEL","s":"Male","k":"fit","x":-4.41,"y":-4.72},{"c":"BEL","s":"Male","k":"fit","x":-4.37,"y":-4.67},{"c":"BEL","s":"Male","k":"fit","x":-4.33,"y":-4.64},{"c":"BEL","s":"Male","k":"fit","x":-4.29,"y":-4.62},{"c":"BEL","s":"Male","k":"fit","x":-4.27,"y":-4.60},{"c":"BEL","s":"Male","k":"fit","x":-4.26,"y":-4.63},{"c":"BEL","s":"Male","k":"fit","x":-4.23,"y":-4.58},
{"c":"CHE","s":"Female","k":"fit","x":-5.015,"y":-6.17},{"c":"CHE","s":"Female","k":"fit","x":-4.95,"y":-6.12},{"c":"CHE","s":"Female","k":"fit","x":-4.90,"y":-6.08},{"c":"CHE","s":"Female","k":"fit","x":-4.85,"y":-6.03},{"c":"CHE","s":"Female","k":"fit","x":-4.80,"y":-5.99},{"c":"CHE","s":"Female","k":"fit","x":-4.75,"y":-5.94},{"c":"CHE","s":"Female","k":"fit","x":-4.70,"y":-5.91},{"c":"CHE","s":"Female","k":"fit","x":-4.65,"y":-5.89},{"c":"CHE","s":"Female","k":"fit","x":-4.60,"y":-5.86},{"c":"CHE","s":"Female","k":"fit","x":-4.55,"y":-5.81},{"c":"CHE","s":"Female","k":"fit","x":-4.50,"y":-5.76},{"c":"CHE","s":"Female","k":"fit","x":-4.45,"y":-5.69},{"c":"CHE","s":"Female","k":"fit","x":-4.40,"y":-5.63},{"c":"CHE","s":"Female","k":"fit","x":-4.36,"y":-5.57},{"c":"CHE","s":"Female","k":"fit","x":-4.32,"y":-5.50},{"c":"CHE","s":"Female","k":"fit","x":-4.28,"y":-5.43},{"c":"CHE","s":"Female","k":"fit","x":-4.26,"y":-5.39},{"c":"CHE","s":"Female","k":"fit","x":-4.25,"y":-5.36},{"c":"CHE","s":"Female","k":"fit","x":-4.23,"y":-5.33},
{"c":"CHE","s":"Male","k":"fit","x":-5.015,"y":-5.70},{"c":"CHE","s":"Male","k":"fit","x":-4.97,"y":-5.64},{"c":"CHE","s":"Male","k":"fit","x":-4.93,"y":-5.58},{"c":"CHE","s":"Male","k":"fit","x":-4.88,"y":-5.51},{"c":"CHE","s":"Male","k":"fit","x":-4.84,"y":-5.46},{"c":"CHE","s":"Male","k":"fit","x":-4.80,"y":-5.41},{"c":"CHE","s":"Male","k":"fit","x":-4.76,"y":-5.35},{"c":"CHE","s":"Male","k":"fit","x":-4.72,"y":-5.31},{"c":"CHE","s":"Male","k":"fit","x":-4.68,"y":-5.28},{"c":"CHE","s":"Male","k":"fit","x":-4.64,"y":-5.26},{"c":"CHE","s":"Male","k":"fit","x":-4.60,"y":-5.22},{"c":"CHE","s":"Male","k":"fit","x":-4.56,"y":-5.13},{"c":"CHE","s":"Male","k":"fit","x":-4.52,"y":-5.09},{"c":"CHE","s":"Male","k":"fit","x":-4.48,"y":-5.02},{"c":"CHE","s":"Male","k":"fit","x":-4.44,"y":-4.96},{"c":"CHE","s":"Male","k":"fit","x":-4.40,"y":-4.92},{"c":"CHE","s":"Male","k":"fit","x":-4.36,"y":-4.88},{"c":"CHE","s":"Male","k":"fit","x":-4.32,"y":-4.83},{"c":"CHE","s":"Male","k":"fit","x":-4.28,"y":-4.77},{"c":"CHE","s":"Male","k":"fit","x":-4.25,"y":-4.71},{"c":"CHE","s":"Male","k":"fit","x":-4.24,"y":-4.67},{"c":"CHE","s":"Male","k":"fit","x":-4.23,"y":-4.71},
{"c":"CZE","s":"Female","k":"fit","x":-5.015,"y":-5.80},{"c":"CZE","s":"Female","k":"fit","x":-4.96,"y":-5.75},{"c":"CZE","s":"Female","k":"fit","x":-4.90,"y":-5.70},{"c":"CZE","s":"Female","k":"fit","x":-4.85,"y":-5.65},{"c":"CZE","s":"Female","k":"fit","x":-4.80,"y":-5.60},{"c":"CZE","s":"Female","k":"fit","x":-4.75,"y":-5.55},{"c":"CZE","s":"Female","k":"fit","x":-4.70,"y":-5.51},{"c":"CZE","s":"Female","k":"fit","x":-4.65,"y":-5.46},{"c":"CZE","s":"Female","k":"fit","x":-4.60,"y":-5.40},{"c":"CZE","s":"Female","k":"fit","x":-4.55,"y":-5.35},{"c":"CZE","s":"Female","k":"fit","x":-4.50,"y":-5.31},{"c":"CZE","s":"Female","k":"fit","x":-4.45,"y":-5.27},{"c":"CZE","s":"Female","k":"fit","x":-4.40,"y":-5.25},{"c":"CZE","s":"Female","k":"fit","x":-4.35,"y":-5.25},{"c":"CZE","s":"Female","k":"fit","x":-4.30,"y":-5.25},{"c":"CZE","s":"Female","k":"fit","x":-4.28,"y":-5.27},{"c":"CZE","s":"Female","k":"fit","x":-4.27,"y":-5.22},{"c":"CZE","s":"Female","k":"fit","x":-4.26,"y":-5.28},{"c":"CZE","s":"Female","k":"fit","x":-4.25,"y":-5.26},{"c":"CZE","s":"Female","k":"fit","x":-4.235,"y":-5.27},{"c":"CZE","s":"Female","k":"fit","x":-4.23,"y":-5.21},
{"c":"CZE","s":"Male","k":"fit","x":-5.015,"y":-4.95},{"c":"CZE","s":"Male","k":"fit","x":-4.97,"y":-4.90},{"c":"CZE","s":"Male","k":"fit","x":-4.92,"y":-4.85},{"c":"CZE","s":"Male","k":"fit","x":-4.87,"y":-4.80},{"c":"CZE","s":"Male","k":"fit","x":-4.82,"y":-4.75},{"c":"CZE","s":"Male","k":"fit","x":-4.77,"y":-4.71},{"c":"CZE","s":"Male","k":"fit","x":-4.72,"y":-4.66},{"c":"CZE","s":"Male","k":"fit","x":-4.67,"y":-4.60},{"c":"CZE","s":"Male","k":"fit","x":-4.62,"y":-4.54},{"c":"CZE","s":"Male","k":"fit","x":-4.58,"y":-4.49},{"c":"CZE","s":"Male","k":"fit","x":-4.55,"y":-4.46},{"c":"CZE","s":"Male","k":"fit","x":-4.50,"y":-4.43},{"c":"CZE","s":"Male","k":"fit","x":-4.45,"y":-4.42},{"c":"CZE","s":"Male","k":"fit","x":-4.40,"y":-4.43},{"c":"CZE","s":"Male","k":"fit","x":-4.35,"y":-4.45},{"c":"CZE","s":"Male","k":"fit","x":-4.31,"y":-4.48},{"c":"CZE","s":"Male","k":"fit","x":-4.28,"y":-4.52},{"c":"CZE","s":"Male","k":"fit","x":-4.26,"y":-4.57},{"c":"CZE","s":"Male","k":"fit","x":-4.245,"y":-4.58},{"c":"CZE","s":"Male","k":"fit","x":-4.23,"y":-4.50},
{"c":"DNK","s":"Female","k":"fit","x":-5.015,"y":-5.71},{"c":"DNK","s":"Female","k":"fit","x":-4.96,"y":-5.66},{"c":"DNK","s":"Female","k":"fit","x":-4.90,"y":-5.61},{"c":"DNK","s":"Female","k":"fit","x":-4.85,"y":-5.57},{"c":"DNK","s":"Female","k":"fit","x":-4.80,"y":-5.53},{"c":"DNK","s":"Female","k":"fit","x":-4.75,"y":-5.50},{"c":"DNK","s":"Female","k":"fit","x":-4.70,"y":-5.46},{"c":"DNK","s":"Female","k":"fit","x":-4.65,"y":-5.43},{"c":"DNK","s":"Female","k":"fit","x":-4.60,"y":-5.39},{"c":"DNK","s":"Female","k":"fit","x":-4.55,"y":-5.38},{"c":"DNK","s":"Female","k":"fit","x":-4.50,"y":-5.36},{"c":"DNK","s":"Female","k":"fit","x":-4.45,"y":-5.35},{"c":"DNK","s":"Female","k":"fit","x":-4.42,"y":-5.33},{"c":"DNK","s":"Female","k":"fit","x":-4.38,"y":-5.33},{"c":"DNK","s":"Female","k":"fit","x":-4.34,"y":-5.30},{"c":"DNK","s":"Female","k":"fit","x":-4.30,"y":-5.28},{"c":"DNK","s":"Female","k":"fit","x":-4.27,"y":-5.22},{"c":"DNK","s":"Female","k":"fit","x":-4.265,"y":-5.30},{"c":"DNK","s":"Female","k":"fit","x":-4.25,"y":-5.25},{"c":"DNK","s":"Female","k":"fit","x":-4.23,"y":-5.20},
{"c":"DNK","s":"Male","k":"fit","x":-5.015,"y":-5.20},{"c":"DNK","s":"Male","k":"fit","x":-4.98,"y":-5.20},{"c":"DNK","s":"Male","k":"fit","x":-4.93,"y":-5.14},{"c":"DNK","s":"Male","k":"fit","x":-4.88,"y":-5.09},{"c":"DNK","s":"Male","k":"fit","x":-4.83,"y":-5.05},{"c":"DNK","s":"Male","k":"fit","x":-4.78,"y":-5.01},{"c":"DNK","s":"Male","k":"fit","x":-4.73,"y":-4.96},{"c":"DNK","s":"Male","k":"fit","x":-4.69,"y":-4.92},{"c":"DNK","s":"Male","k":"fit","x":-4.65,"y":-4.92},{"c":"DNK","s":"Male","k":"fit","x":-4.63,"y":-4.96},{"c":"DNK","s":"Male","k":"fit","x":-4.60,"y":-4.88},{"c":"DNK","s":"Male","k":"fit","x":-4.55,"y":-4.89},{"c":"DNK","s":"Male","k":"fit","x":-4.50,"y":-4.88},{"c":"DNK","s":"Male","k":"fit","x":-4.45,"y":-4.85},{"c":"DNK","s":"Male","k":"fit","x":-4.40,"y":-4.86},{"c":"DNK","s":"Male","k":"fit","x":-4.35,"y":-4.83},{"c":"DNK","s":"Male","k":"fit","x":-4.30,"y":-4.82},{"c":"DNK","s":"Male","k":"fit","x":-4.275,"y":-4.75},{"c":"DNK","s":"Male","k":"fit","x":-4.265,"y":-4.85},{"c":"DNK","s":"Male","k":"fit","x":-4.25,"y":-4.80},{"c":"DNK","s":"Male","k":"fit","x":-4.23,"y":-4.77},
{"c":"SWE","s":"Female","k":"fit","x":-5.015,"y":-6.16},{"c":"SWE","s":"Female","k":"fit","x":-4.97,"y":-6.09},{"c":"SWE","s":"Female","k":"fit","x":-4.93,"y":-6.05},{"c":"SWE","s":"Female","k":"fit","x":-4.88,"y":-6.00},{"c":"SWE","s":"Female","k":"fit","x":-4.83,"y":-5.96},{"c":"SWE","s":"Female","k":"fit","x":-4.78,"y":-5.92},{"c":"SWE","s":"Female","k":"fit","x":-4.73,"y":-5.89},{"c":"SWE","s":"Female","k":"fit","x":-4.68,"y":-5.86},{"c":"SWE","s":"Female","k":"fit","x":-4.63,"y":-5.83},{"c":"SWE","s":"Female","k":"fit","x":-4.58,"y":-5.79},{"c":"SWE","s":"Female","k":"fit","x":-4.53,"y":-5.75},{"c":"SWE","s":"Female","k":"fit","x":-4.48,"y":-5.71},{"c":"SWE","s":"Female","k":"fit","x":-4.43,"y":-5.67},{"c":"SWE","s":"Female","k":"fit","x":-4.38,"y":-5.62},{"c":"SWE","s":"Female","k":"fit","x":-4.34,"y":-5.59},{"c":"SWE","s":"Female","k":"fit","x":-4.30,"y":-5.56},{"c":"SWE","s":"Female","k":"fit","x":-4.27,"y":-5.51},{"c":"SWE","s":"Female","k":"fit","x":-4.265,"y":-5.55},{"c":"SWE","s":"Female","k":"fit","x":-4.25,"y":-5.47},{"c":"SWE","s":"Female","k":"fit","x":-4.23,"y":-5.45},
{"c":"SWE","s":"Male","k":"fit","x":-5.015,"y":-5.70},{"c":"SWE","s":"Male","k":"fit","x":-4.98,"y":-5.66},{"c":"SWE","s":"Male","k":"fit","x":-4.94,"y":-5.60},{"c":"SWE","s":"Male","k":"fit","x":-4.90,"y":-5.56},{"c":"SWE","s":"Male","k":"fit","x":-4.85,"y":-5.54},{"c":"SWE","s":"Male","k":"fit","x":-4.80,"y":-5.51},{"c":"SWE","s":"Male","k":"fit","x":-4.78,"y":-5.45},{"c":"SWE","s":"Male","k":"fit","x":-4.74,"y":-5.41},{"c":"SWE","s":"Male","k":"fit","x":-4.70,"y":-5.36},{"c":"SWE","s":"Male","k":"fit","x":-4.66,"y":-5.34},{"c":"SWE","s":"Male","k":"fit","x":-4.63,"y":-5.33},{"c":"SWE","s":"Male","k":"fit","x":-4.62,"y":-5.26},{"c":"SWE","s":"Male","k":"fit","x":-4.60,"y":-5.16},{"c":"SWE","s":"Male","k":"fit","x":-4.55,"y":-5.10},{"c":"SWE","s":"Male","k":"fit","x":-4.50,"y":-5.07},{"c":"SWE","s":"Male","k":"fit","x":-4.45,"y":-5.03},{"c":"SWE","s":"Male","k":"fit","x":-4.40,"y":-5.00},{"c":"SWE","s":"Male","k":"fit","x":-4.35,"y":-4.98},{"c":"SWE","s":"Male","k":"fit","x":-4.31,"y":-4.98},{"c":"SWE","s":"Male","k":"fit","x":-4.29,"y":-5.00},{"c":"SWE","s":"Male","k":"fit","x":-4.27,"y":-4.93},{"c":"SWE","s":"Male","k":"fit","x":-4.25,"y":-4.88},{"c":"SWE","s":"Male","k":"fit","x":-4.23,"y":-4.87}
]},
"data": {"name": "d"},
"facet": {
  "row": {"field": "s", "type": "nominal", "title": "Mortality (log)", "sort": ["Female", "Male"],
    "header": {"labels": false, "labelPadding": 0, "titleOrient": "left", "titleFontSize": 16, "titleFont": "Liberation Sans", "titleFontWeight": "normal", "titleColor": "#000000", "titlePadding": -10.5}},
  "column": {"field": "c", "type": "nominal", "title": "kₜ", "sort": ["AUT", "BEL", "CHE", "CZE", "DNK", "SWE"],
    "header": {"labels": false, "labelPadding": 0, "titleOrient": "bottom", "titleFontSize": 16, "titleFont": "Liberation Sans", "titleFontWeight": "normal", "titleColor": "#000000", "titlePadding": -11}}
},
"spec": {
  "width": 118.5,
  "height": 102,
  "layer": [
    {"transform": [{"filter": "datum.k == 'obs' && datum.x == -5.017"}], "mark": {"type": "rule", "color": "#ebebeb", "strokeWidth": 0.55}, "encoding": {"x": {"datum": -4.9, "type": "quantitative"}}},
    {"transform": [{"filter": "datum.k == 'obs' && datum.x == -5.017"}], "mark": {"type": "rule", "color": "#ebebeb", "strokeWidth": 0.55}, "encoding": {"x": {"datum": -4.7, "type": "quantitative"}}},
    {"transform": [{"filter": "datum.k == 'obs' && datum.x == -5.017"}], "mark": {"type": "rule", "color": "#ebebeb", "strokeWidth": 0.55}, "encoding": {"x": {"datum": -4.5, "type": "quantitative"}}},
    {"transform": [{"filter": "datum.k == 'obs' && datum.x == -5.017"}], "mark": {"type": "rule", "color": "#ebebeb", "strokeWidth": 0.55}, "encoding": {"x": {"datum": -4.3, "type": "quantitative"}}},
    {"transform": [{"filter": "datum.k == 'obs' && datum.x == -5.017"}], "mark": {"type": "rule", "color": "#ebebeb", "strokeWidth": 0.55}, "encoding": {"y": {"datum": -6.25, "type": "quantitative"}}},
    {"transform": [{"filter": "datum.k == 'obs' && datum.x == -5.017"}], "mark": {"type": "rule", "color": "#ebebeb", "strokeWidth": 0.55}, "encoding": {"y": {"datum": -5.75, "type": "quantitative"}}},
    {"transform": [{"filter": "datum.k == 'obs' && datum.x == -5.017"}], "mark": {"type": "rule", "color": "#ebebeb", "strokeWidth": 0.55}, "encoding": {"y": {"datum": -5.25, "type": "quantitative"}}},
    {"transform": [{"filter": "datum.k == 'obs' && datum.x == -5.017"}], "mark": {"type": "rule", "color": "#ebebeb", "strokeWidth": 0.55}, "encoding": {"y": {"datum": -4.75, "type": "quantitative"}}},
    {
      "transform": [{"filter": "datum.k == 'obs'"}],
      "mark": {"type": "circle", "color": "#ff0000", "size": 12, "opacity": 1},
      "encoding": {
        "x": {"field": "x", "type": "quantitative", "title": null,
          "scale": {"domain": [-5.054, -4.193], "nice": false, "zero": false},
          "axis": {
            "values": [-5.0, -4.8, -4.6, -4.4, -4.2],
            "tickCount": 20,
            "format": ".1f",
            "gridColor": "#ebebeb", "gridWidth": 1.1,
            "labelAngle": 270, "labelAlign": "right", "labelBaseline": "top",
            "labelOverlap": false, "labelFlush": false, "labelBound": false,
            "labelPadding": 2
          }
        },
        "y": {"field": "y", "type": "quantitative", "title": null,
          "scale": {"domain": [-6.32, -4.255], "nice": false, "zero": false},
          "axis": {
            "values": [-6.0, -5.5, -5.0, -4.5],
            "tickCount": 20,
            "format": ".1f",
            "gridColor": "#ebebeb", "gridWidth": 1.1,
            "labelOverlap": false, "labelFlush": false, "labelBound": false,
            "labelPadding": 1
          }
        }
      }
    },
    {
      "transform": [{"filter": "datum.k == 'fit'"}],
      "mark": {"type": "line", "color": "#000000", "strokeWidth": 1},
      "encoding": {
        "x": {"field": "x", "type": "quantitative"},
        "y": {"field": "y", "type": "quantitative"}
      }
    },
    {
      "transform": [{"filter": "datum.k == 'obs' && datum.x == -5.017 && datum.s == 'Female'"}],
      "mark": {"type": "rect", "fill": "#d9d9d9", "stroke": "#808080", "strokeWidth": 1, "clip": false},
      "encoding": {
        "x": {"datum": -5.054, "type": "quantitative"},
        "x2": {"datum": -4.193},
        "y": {"datum": -4.255, "type": "quantitative"},
        "y2": {"datum": -3.85}
      }
    },
    {
      "transform": [{"filter": "datum.k == 'obs' && datum.x == -5.017 && datum.s == 'Female'"}],
      "mark": {"type": "text", "fontSize": 16, "color": "#1a1a1a", "baseline": "middle", "align": "center", "clip": false},
      "encoding": {
        "x": {"datum": -4.6235, "type": "quantitative"},
        "y": {"datum": -4.05, "type": "quantitative"},
        "text": {"field": "c"}
      }
    },
    {
      "transform": [{"filter": "datum.k == 'obs' && datum.x == -5.017 && datum.c == 'SWE'"}],
      "mark": {"type": "rect", "fill": "#d9d9d9", "stroke": "#808080", "strokeWidth": 1, "clip": false},
      "encoding": {
        "x": {"datum": -4.193, "type": "quantitative"},
        "x2": {"datum": -4.0404},
        "y": {"datum": -6.32, "type": "quantitative"},
        "y2": {"datum": -4.255}
      }
    },
    {
      "transform": [{"filter": "datum.k == 'obs' && datum.x == -5.017 && datum.c == 'SWE'"}],
      "mark": {"type": "text", "fontSize": 16, "color": "#1a1a1a", "baseline": "middle", "align": "center", "angle": 90, "clip": false},
      "encoding": {
        "x": {"datum": -4.1167, "type": "quantitative"},
        "y": {"datum": -5.2875, "type": "quantitative"},
        "text": {"field": "s"}
      }
    }
  ]
},
"config": {
  "font": "Liberation Sans",
  "view": {"stroke": "#808080", "strokeWidth": 1},
  "axis": {
    "minExtent": 0,
    "labelColor": "#4d4d4d", "labelFontSize": 11, "labelFont": "Liberation Sans",
    "tickColor": "#333333", "tickSize": 3, "domainColor": "#333333", "domainWidth": 1,
    "titleFontSize": 16, "titleColor": "#000000", "titleFontWeight": "normal", "titleFont": "Liberation Sans"
  }
}
}
